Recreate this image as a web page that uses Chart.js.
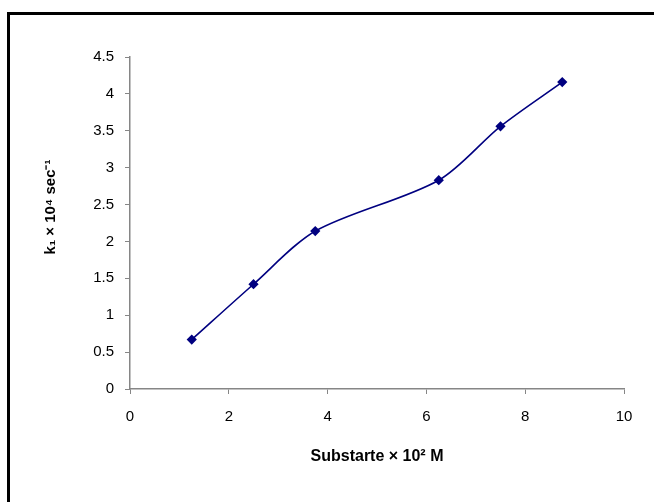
<!DOCTYPE html>
<html>
<head>
<meta charset="utf-8">
<script src="https://cdn.jsdelivr.net/npm/chart.js@4"></script>
<style>
  html,body{margin:0;padding:0;background:#fff;overflow:hidden;}
  #wrap{position:relative;width:654px;height:502px;}
  #frame{position:absolute;left:7px;top:12px;width:700px;height:600px;border-left:3px solid #000;border-top:3px solid #000;box-sizing:border-box;}
  canvas{position:absolute;left:0;top:0;}
</style>
</head>
<body>
<div id="wrap">
  <div id="frame"></div>
  <canvas id="c" width="654" height="502"></canvas>
</div>
<script>
// substrate concentration (x 10^2 M) vs k1 (x 10^4 sec^-1)
var substrate=[1.25,2.5,3.75,6.25,7.5,8.75];
var k1=[0.67,1.42,2.14,2.83,3.56,4.16];
var xTitle='Substarte \u00d7 10\u00b2 M';
var yTitle='k\u2081 \u00d7 10\u2074 sec\u207b\u00b9';

var axisGrey='#868686';
var font="'Liberation Sans',Arial,sans-serif";

var pts=substrate.map(function(x,i){return {x:x,y:k1[i]};});

// y title sits a little above the middle of the axis, as in the original
var yTitlePlugin={
  id:'yTitle',
  afterDraw:function(chart){
    var c=chart.ctx,a=chart.chartArea;
    c.save();
    c.translate(51,(a.top+a.bottom)/2-16);
    c.rotate(-Math.PI/2);
    c.font='bold 15px '+font;
    c.fillStyle='#000';
    c.textAlign='center';c.textBaseline='middle';
    c.fillText(yTitle,0,0);
    c.restore();
  }
};

new Chart(document.getElementById('c'),{
  type:'scatter',
  data:{datasets:[{
    data:pts,showLine:true,tension:0.3,
    borderColor:'#000080',borderWidth:1.6,
    pointStyle:'rectRot',pointRadius:4,pointBackgroundColor:'#000080',pointBorderColor:'#000080'
  }]},
  options:{
    responsive:false,animation:false,
    layout:{padding:{top:57,right:30,bottom:0,left:0}},
    plugins:{legend:{display:false},tooltip:{enabled:false}},
    scales:{
      x:{type:'linear',min:0,max:10,
        ticks:{stepSize:2,color:'#000',font:{family:font,size:15},padding:14},
        grid:{drawOnChartArea:false,color:axisGrey,tickLength:5},
        border:{color:axisGrey,width:1.5},
        title:{display:true,text:xTitle,color:'#000',font:{family:font,size:16,weight:'bold'},padding:{top:0,bottom:36}},
        afterFit:function(s){s.height=113;}
      },
      y:{min:0,max:4.5,
        ticks:{stepSize:0.5,color:'#000',font:{family:font,size:15},padding:11,callback:function(v){return String(v);}},
        grid:{drawOnChartArea:false,color:axisGrey,tickLength:5},
        border:{color:axisGrey,width:1.5},
        afterFit:function(s){s.width=130;}
      }
    }
  },
  plugins:[yTitlePlugin]
});
</script>
</body>
</html>
